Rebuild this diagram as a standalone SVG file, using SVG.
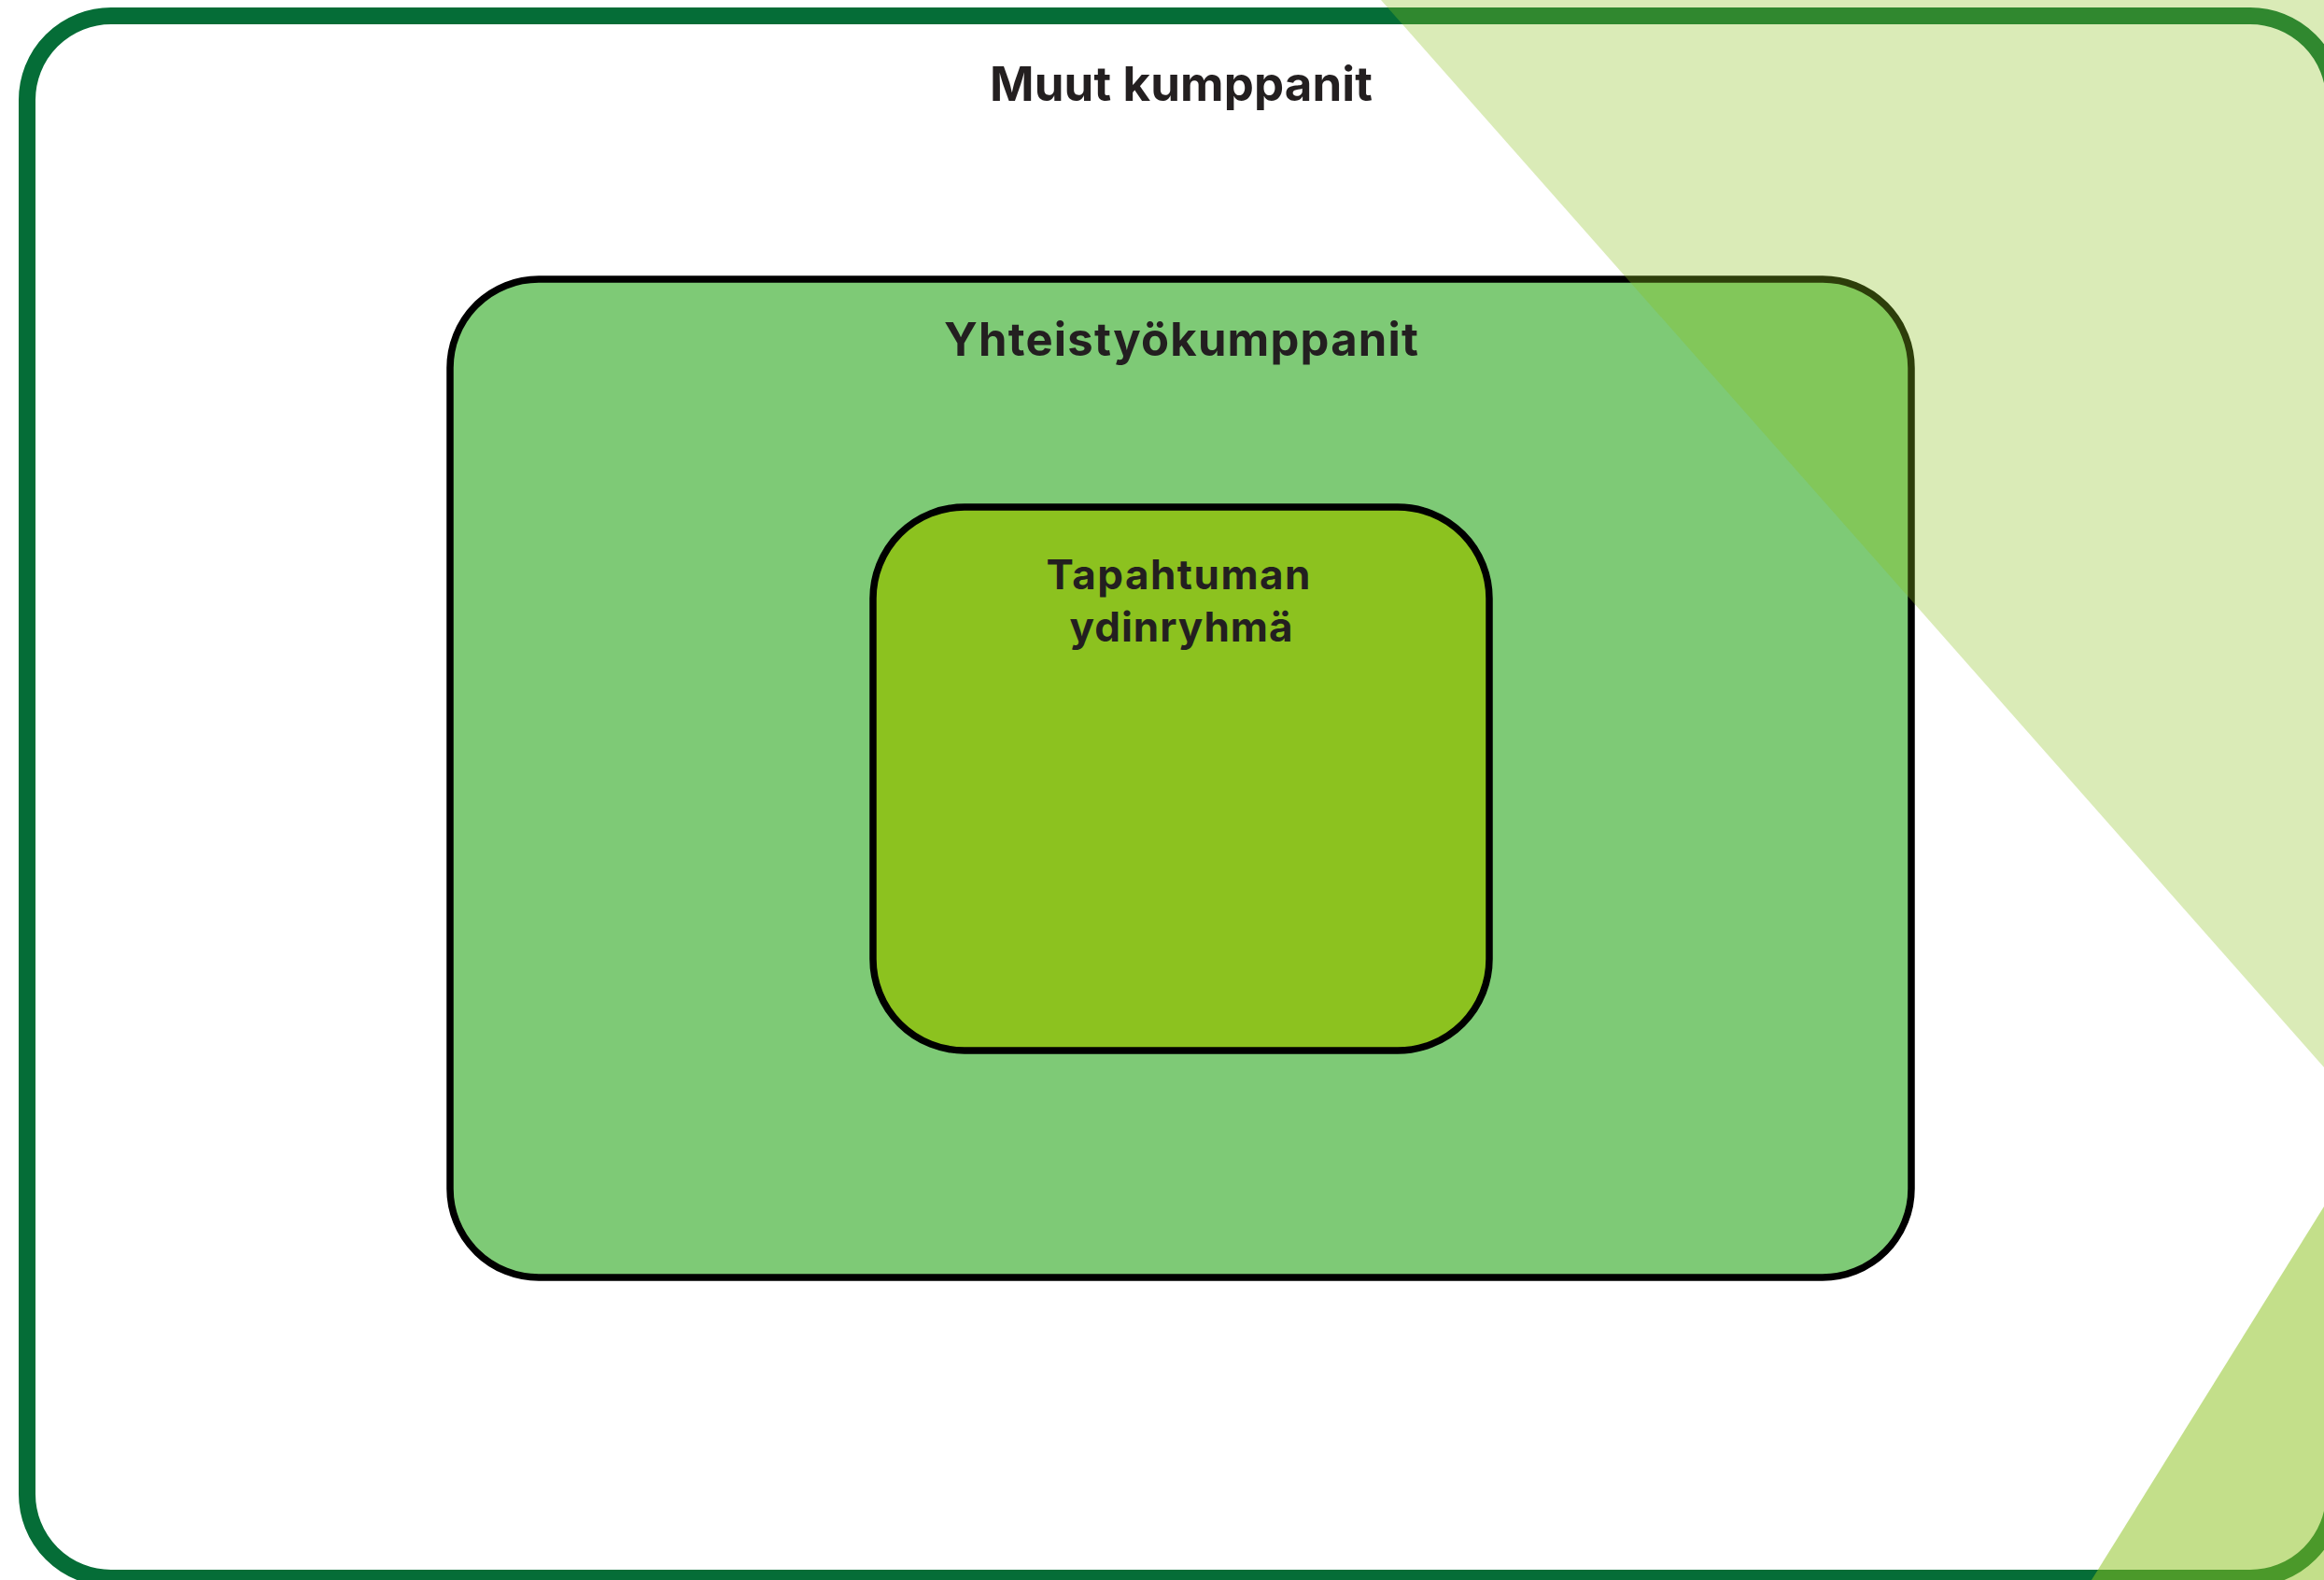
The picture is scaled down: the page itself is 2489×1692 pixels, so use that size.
<svg xmlns="http://www.w3.org/2000/svg" width="2489" height="1692" viewBox="0 0 2489 1692">
<style>
.lbl{font-family:Inter,"Noto Sans","Liberation Sans",sans-serif;font-weight:700;fill:#231f20;text-anchor:middle}
.box{stroke:#000;stroke-width:7.5}
.tri{fill:#8cc21f}
</style>
<rect width="2489" height="1692" fill="#ffffff"/>
<g id="muut-kumppanit">
<rect x="29" y="17" width="2471" height="1673" rx="90" ry="90" fill="#ffffff" stroke="#056d37" stroke-width="18"/>
<text class="lbl" x="1265" y="108" font-size="51" textLength="410" lengthAdjust="spacing">Muut kumppanit</text>
</g>
<g id="yhteistyokumppanit">
<rect class="box" x="482" y="299" width="1565" height="1069" rx="95" ry="95" fill="#7eca76"/>
<text class="lbl" x="1265" y="381" font-size="49" textLength="508" lengthAdjust="spacing">Yhteistyökumppanit</text>
</g>
<g id="ydinryhma">
<rect class="box" x="935" y="543" width="660" height="582" rx="98" ry="98" fill="#8cc21f"/>
<text class="lbl" x="1262" y="631" font-size="44" textLength="283" lengthAdjust="spacing">Tapahtuman</text>
<text class="lbl" x="1265" y="687" font-size="44" textLength="239" lengthAdjust="spacing">ydinryhmä</text>
</g>
<g id="decor">
<polygon class="tri" points="1479,0 2489,1143 2489,0" opacity="0.32"/>
<polygon class="tri" points="2489,1292 2240,1692 2489,1692" opacity="0.52"/>
</g>
<g id="connectors"/>
</svg>
